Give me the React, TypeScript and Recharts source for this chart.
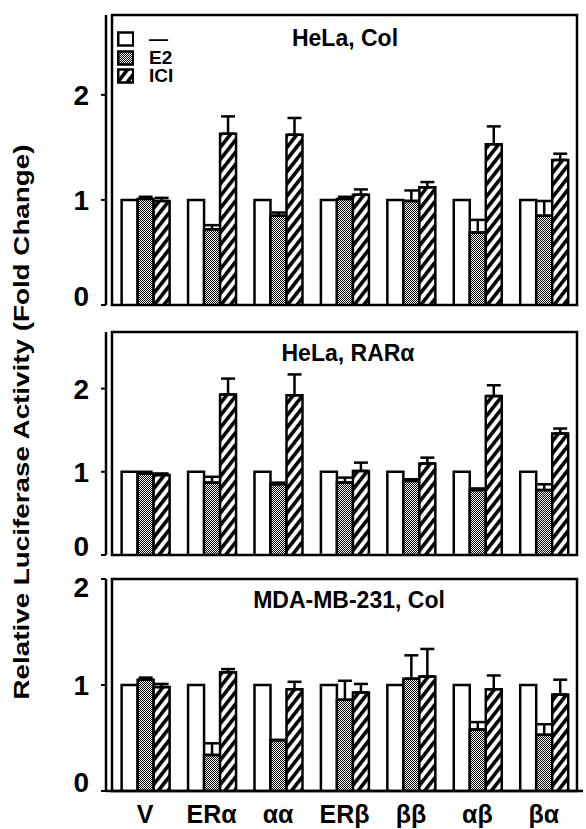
import React from "react";
import { BarChart, Bar, XAxis, YAxis, ErrorBar, Legend, ReferenceArea } from "recharts";

const categories = ["V", "ERα", "αα", "ERβ", "ββ", "αβ", "βα"];
const seriesNames = ["—", "E2", "ICI"];
const yTicks = [0, 1, 2];

// Panel 1: HeLa, Col
const p1Ctrl = [1, 1, 1, 1, 1, 1, 1];
const p1E2 = [1.01, 0.72, 0.85, 1.01, 0.99, 0.69, 0.85];
const p1E2Err = [0.02, 0.04, 0.03, 0.02, 0.1, 0.12, 0.14];
const p1ICI = [0.99, 1.63, 1.62, 1.05, 1.12, 1.53, 1.38];
const p1ICIErr = [0.03, 0.165, 0.16, 0.05, 0.05, 0.17, 0.06];

// Panel 2: HeLa, RARα
const p2Ctrl = [1, 1, 1, 1, 1, 1, 1];
const p2E2 = [0.98, 0.87, 0.85, 0.87, 0.89, 0.78, 0.78];
const p2E2Err = [0.02, 0.07, 0.02, 0.06, 0.02, 0.02, 0.07];
const p2ICI = [0.96, 1.93, 1.92, 1.01, 1.1, 1.91, 1.46];
const p2ICIErr = [0.02, 0.19, 0.25, 0.1, 0.07, 0.13, 0.06];

// Panel 3: MDA-MB-231, Col
const p3Ctrl = [1, 1, 1, 1, 1, 1, 1];
const p3E2 = [1.05, 0.34, 0.48, 0.86, 1.06, 0.58, 0.53];
const p3E2Err = [0.02, 0.11, 0.0, 0.18, 0.22, 0.07, 0.1];
const p3ICI = [0.98, 1.12, 0.96, 0.93, 1.08, 0.96, 0.91];
const p3ICIErr = [0.03, 0.03, 0.07, 0.08, 0.26, 0.13, 0.14];

const FONT = "'Liberation Sans', Arial, Helvetica, sans-serif";

function build(ctrl: number[], e2: number[], e2e: number[], ici: number[], icie: number[]) {
  return categories.map((c, i) => ({
    cat: c,
    ctrl: ctrl[i],
    e2: e2[i],
    e2Err: [0, e2e[i]],
    ici: ici[i],
    iciErr: [0, icie[i]],
  }));
}

const d1 = build(p1Ctrl, p1E2, p1E2Err, p1ICI, p1ICIErr);
const d2 = build(p2Ctrl, p2E2, p2E2Err, p2ICI, p2ICIErr);
const d3 = build(p3Ctrl, p3E2, p3E2Err, p3ICI, p3ICIErr);

const Defs = () => (
  <svg width={0} height={0} style={{ position: "absolute" }}>
    <defs>
      <pattern id="stip" width={2} height={2} patternUnits="userSpaceOnUse">
        <rect x={0} y={0} width={2} height={2} fill="#fff" />
        <rect x={0} y={0} width={1} height={1} fill="#000" />
        <rect x={1} y={1} width={1} height={1} fill="#000" />
      </pattern>
      <pattern id="hatch" width={7.5} height={8} patternUnits="userSpaceOnUse" patternTransform="rotate(38)">
        <rect x={0} y={0} width={7.5} height={8} fill="#fff" />
        <rect x={0} y={0} width={3.6} height={8} fill="#000" />
      </pattern>
    </defs>
  </svg>
);

const legendItems = [
  { f: "#fff", n: seriesNames[0] },
  { f: "url(#stip)", n: seriesNames[1] },
  { f: "url(#hatch)", n: seriesNames[2] },
];

const LegendContent = () => (
  <div style={{ fontFamily: FONT, fontWeight: 700, fontSize: 19, color: "#000" }}>
    {legendItems.map((it, i) => (
      <div key={i} style={{ display: "flex", alignItems: "center", height: 18.5, lineHeight: "18.5px" }}>
        <svg width={17} height={16} style={{ flexShrink: 0, display: "block" }}>
          <rect x={1.25} y={1.5} width={15} height={13} fill={it.f} stroke="#000" strokeWidth={2.5} />
        </svg>
        <span style={{ marginLeft: 15, whiteSpace: "nowrap" }}>{it.n}</span>
      </div>
    ))}
  </div>
);

const makeTick = (yMax: number) => (props: any) => {
  const { x, y, payload } = props;
  const v = payload.value;
  const shift = v === 0 ? -9 : v === yMax ? 8 : 0;
  return (
    <text
      x={x - 10}
      y={y + shift}
      dy="0.36em"
      textAnchor="end"
      fill="#000"
      fontSize={28}
      fontWeight={700}
      fontFamily={FONT}
    >
      {v}
    </text>
  );
};

type PanelProps = {
  data: any[];
  top: number;
  height: number;
  mTop: number;
  mBottom: number;
  yMax: number;
  showX: boolean;
  legend?: boolean;
};

const Panel = ({ data, top, height, mTop, mBottom, yMax, showX, legend }: PanelProps) => {
  const axisStroke = { stroke: "#000", strokeWidth: 2.5 };
  return (
    <div style={{ position: "absolute", left: 0, top }}>
      <BarChart
        width={586}
        height={height}
        data={data}
        margin={{ top: mTop, right: 3, bottom: mBottom, left: 0 }}
        barCategoryGap="14.5%"
        barGap={0}
      >
        <XAxis
          dataKey="cat"
          axisLine={axisStroke}
          tickLine={false}
          padding={{ left: 6, right: 6 }}
          tick={showX ? { fill: "#000", fontSize: 25, fontWeight: 700, fontFamily: FONT } : false}
          height={showX ? 32 : 0}
          tickMargin={8}
          interval={0}
        />
        <YAxis
          domain={[0, yMax]}
          ticks={yTicks}
          interval={0}
          allowDataOverflow
          width={106}
          axisLine={axisStroke}
          tickLine={{ stroke: "#000", strokeWidth: 2 }}
          tickSize={5}
          tick={makeTick(yMax)}
        />
        <ReferenceArea y1={0} y2={yMax} fill="none" stroke="#000" strokeWidth={2.5} ifOverflow="visible" />
        {legend && (
          <Legend
            verticalAlign="middle"
            align="center"
            content={LegendContent}
            wrapperStyle={{ left: 117, top: 30, width: 90, height: 58 }}
          />
        )}
        <Bar dataKey="ctrl" fill="#fff" stroke="#000" strokeWidth={2.5} isAnimationActive={false} />
        <Bar dataKey="e2" fill="url(#stip)" stroke="#000" strokeWidth={2.5} isAnimationActive={false}>
          <ErrorBar dataKey="e2Err" width={7} stroke="#000" strokeWidth={2.5} direction="y" />
        </Bar>
        <Bar dataKey="ici" fill="url(#hatch)" stroke="#000" strokeWidth={2.5} isAnimationActive={false}>
          <ErrorBar dataKey="iciErr" width={7} stroke="#000" strokeWidth={2.5} direction="y" />
        </Bar>
      </BarChart>
    </div>
  );
};

const titleStyle = (y: number, cx: number): React.CSSProperties => ({
  position: "absolute",
  left: cx - 150,
  width: 300,
  top: y,
  textAlign: "center",
  fontFamily: FONT,
  fontWeight: 700,
  fontSize: 23,
  lineHeight: "26px",
  color: "#000",
});

export default function App() {
  return (
    <div style={{ position: "absolute", left: 0, top: 0, width: 586, height: 829, background: "#fff" }}>
      <Defs />
      <Panel data={d1} top={0} height={320} mTop={15} mBottom={15} yMax={2.76} showX={false} legend />
      <Panel data={d2} top={317} height={253} mTop={15} mBottom={15} yMax={2.68} showX={false} />
      <Panel data={d3} top={564} height={265} mTop={15} mBottom={6} yMax={2} showX />
      <div style={titleStyle(25, 345)}>HeLa, Col</div>
      <div style={titleStyle(340, 348)}>HeLa, RARα</div>
      <div style={titleStyle(587, 349)}>MDA-MB-231, Col</div>
      <svg width={40} height={829} style={{ position: "absolute", left: 0, top: 0 }}>
        <text
          x={0}
          y={0}
          transform="translate(29,422) rotate(-90)"
          textAnchor="middle"
          fontFamily={FONT}
          fontWeight={700}
          fontSize={22}
          textLength={555}
          lengthAdjust="spacingAndGlyphs"
          fill="#000"
        >
          Relative Luciferase Activity (Fold Change)
        </text>
      </svg>
    </div>
  );
}
